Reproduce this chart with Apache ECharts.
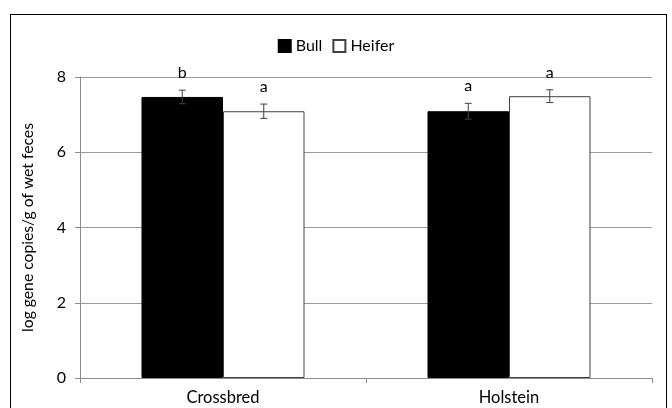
<!DOCTYPE html>
<html>
<head>
<meta charset="utf-8">
<script src="https://cdn.jsdelivr.net/npm/echarts@6/dist/echarts.min.js"></script>
<style>
  html, body { margin: 0; padding: 0; background: #fff; }
  #frame { position: absolute; left: 10px; top: 14px; width: 657px; height: 400px; border: 1px solid #000; box-sizing: border-box; }
  #chart { width: 672px; height: 408px; position: absolute; left: 0; top: 0; }
</style>
</head>
<body>
<div id="frame"></div>
<div id="chart"></div>
<script>
// Breeds on the x axis
const categories = ['Crossbred', 'Holstein'];
// Mean log gene copies per gram of wet feces
const bullValues = [7.47, 7.09];
const heiferValues = [7.09, 7.49];
// Standard errors
const bullErrors = [0.18, 0.21];
const heiferErrors = [0.19, 0.17];
// Significance letters
const bullLetters = ['b', 'a'];
const heiferLetters = ['a', 'a'];
// Y axis ticks
const yTicks = [0, 2, 4, 6, 8];

const FONT = 'Lato, "Open Sans", sans-serif';
const GAP = 0.43;

function errorSeries(name, values, errors, letters, side) {
  return {
    type: 'custom',
    name: name + ' SE',
    z: 10,
    silent: true,
    renderItem: function (params, api) {
      const i = api.value(0);
      const v = api.value(1);
      const e = api.value(2);
      const band = api.size([1, 0])[0];
      const bw = band * (1 - GAP) / 2;
      const c = api.coord([i, v]);
      const x = c[0] + side * bw / 2;
      const top = api.coord([i, v + e])[1];
      const bot = api.coord([i, v - e])[1];
      const style = { stroke: '#404040', lineWidth: 1 };
      return {
        type: 'group',
        children: [
          { type: 'line', shape: { x1: x, y1: top, x2: x, y2: bot }, style: style },
          { type: 'line', shape: { x1: x - 3.5, y1: top, x2: x + 3.5, y2: top }, style: style },
          { type: 'line', shape: { x1: x - 3.5, y1: bot, x2: x + 3.5, y2: bot }, style: style },
          { type: 'text', style: { text: letters[i], x: x, y: top - 9, textAlign: 'center', textVerticalAlign: 'bottom', fill: '#000', font: '16px ' + FONT } }
        ]
      };
    },
    data: values.map((v, i) => [i, v, errors[i]])
  };
}

const chart = echarts.init(document.getElementById('chart'));
chart.setOption({
  animation: false,
  textStyle: { fontFamily: FONT },
  legend: {
    top: 33,
    left: 'center',
    itemWidth: 12,
    itemHeight: 12,
    itemGap: 10,
    textStyle: { fontSize: 16, color: '#000', fontFamily: FONT },
    data: [
      { name: 'Bull', icon: 'rect' },
      { name: 'Heifer', icon: 'rect' }
    ]
  },
  grid: { left: 80, right: 20, top: 77, bottom: 30 },
  xAxis: {
    type: 'category',
    data: categories,
    axisLine: { lineStyle: { color: '#8c8c8c' } },
    axisTick: { show: true, length: 5, lineStyle: { color: '#8c8c8c' } },
    axisLabel: { fontSize: 16.5, color: '#000', margin: 11, fontFamily: FONT }
  },
  yAxis: {
    type: 'value',
    min: 0,
    max: 8,
    interval: 2,
    name: 'log gene copies/g of wet feces',
    nameLocation: 'middle',
    nameGap: 44,
    nameTextStyle: { fontSize: 15.7, color: '#000', fontFamily: FONT },
    axisLine: { show: true, lineStyle: { color: '#8c8c8c' } },
    axisTick: { show: true, length: 5, lineStyle: { color: '#8c8c8c' } },
    axisLabel: { fontSize: 16, color: '#000', margin: 14, fontFamily: FONT },
    splitLine: { lineStyle: { color: '#9a9a9a' } }
  },
  series: [
    {
      name: 'Bull',
      type: 'bar',
      data: bullValues,
      barGap: '0%',
      barCategoryGap: (GAP * 100) + '%',
      itemStyle: { color: '#000', borderColor: '#000', borderWidth: 1 }
    },
    {
      name: 'Heifer',
      type: 'bar',
      data: heiferValues,
      barGap: '0%',
      barCategoryGap: (GAP * 100) + '%',
      itemStyle: { color: '#fff', borderColor: '#404040', borderWidth: 1 }
    },
    errorSeries('Bull', bullValues, bullErrors, bullLetters, -1),
    errorSeries('Heifer', heiferValues, heiferErrors, heiferLetters, 1)
  ]
});
</script>
</body>
</html>
